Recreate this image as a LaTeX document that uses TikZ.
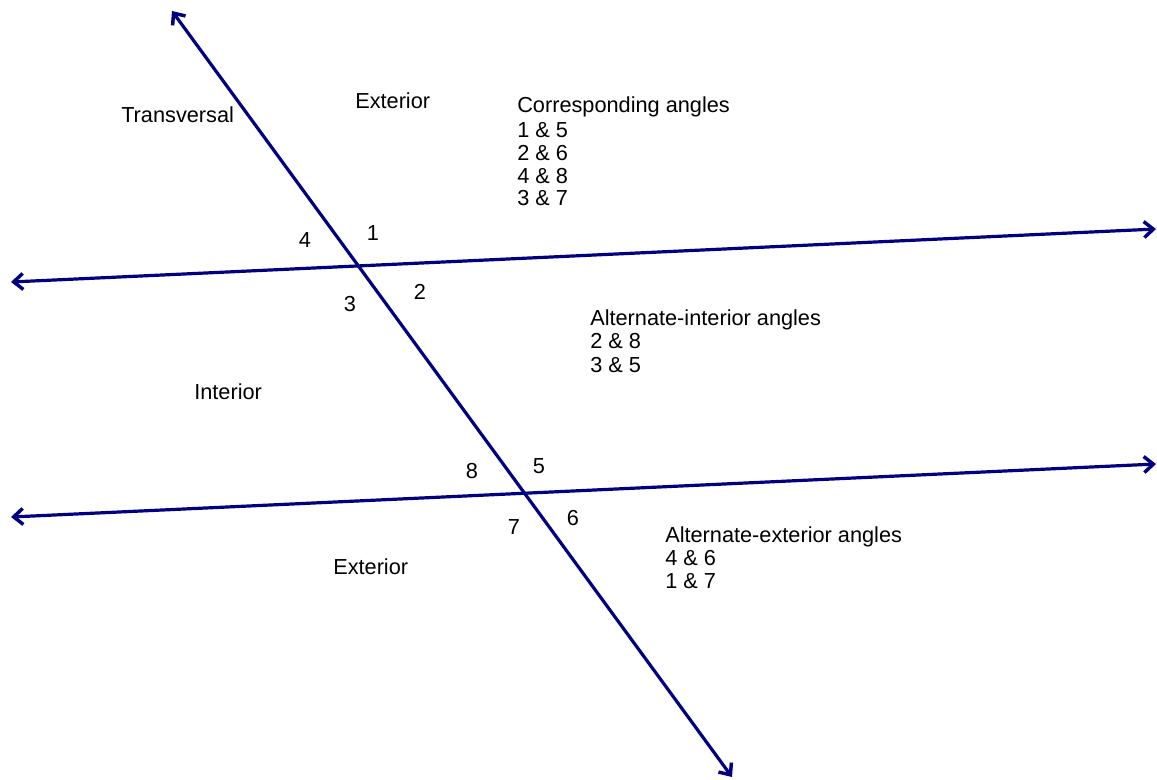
\documentclass[tikz,border=0pt]{standalone}
\usepackage{fontspec}
\setmainfont{Liberation Sans}
\usetikzlibrary{arrows.meta}
\definecolor{linenavy}{RGB}{0,0,128}
\begin{document}
\begin{tikzpicture}[x=0.75pt,y=-0.75pt,
  ray/.style={draw=linenavy,line width=2.4pt,
    {Straight Barb[length=7pt,width=12pt,line width=2.6pt]}-{Straight Barb[length=7pt,width=12pt,line width=2.6pt]}},
  lbl/.style={inner sep=0pt,anchor=base west,font=\fontsize{16.3}{18}\selectfont},
  num/.style={inner sep=0pt,anchor=center,font=\fontsize{16.3}{18}\selectfont}]
\useasboundingbox (0,0) rectangle (1157,779);
% endpoints
\coordinate (tA) at (172,11);
\coordinate (tB) at (732,777);
\coordinate (uA) at (11,282);
\coordinate (uB) at (1156,229);
\coordinate (lA) at (11,517);
\coordinate (lB) at (1156,464);
\draw[ray] (uA) -- (uB);
\draw[ray] (lA) -- (lB);
\draw[ray] (tA) -- (tB);
% labels
\node[lbl] (trans) at (121,122) {Transversal};
\node[lbl] (ext1) at (355,108) {Exterior};
\node[lbl] (int) at (194,399) {Interior};
\node[lbl] (ext2) at (333,574) {Exterior};
\node[lbl] (c0) at (517,112) {Corresponding angles};
\node[lbl] (c1) at (517,137) {1 \& 5};
\node[lbl] (c2) at (517,160) {2 \& 6};
\node[lbl] (c3) at (517,183) {4 \& 8};
\node[lbl] (c4) at (517,205) {3 \& 7};
\node[lbl] (ai0) at (590,325) {Alternate-interior angles};
\node[lbl] (ai1) at (590,348) {2 \& 8};
\node[lbl] (ai2) at (590,372) {3 \& 5};
\node[lbl] (ae0) at (665,542) {Alternate-exterior angles};
\node[lbl] (ae1) at (665,565) {4 \& 6};
\node[lbl] (ae2) at (665,588) {1 \& 7};
% angle numbers
\node[num] (n1) at (373,233) {1};
\node[num] (n2) at (420,292) {2};
\node[num] (n3) at (350,304) {3};
\node[num] (n4) at (305,240) {4};
\node[num] (n5) at (539,466) {5};
\node[num] (n6) at (573,518) {6};
\node[num] (n7) at (514,527) {7};
\node[num] (n8) at (472,471) {8};
\end{tikzpicture}
\end{document}
